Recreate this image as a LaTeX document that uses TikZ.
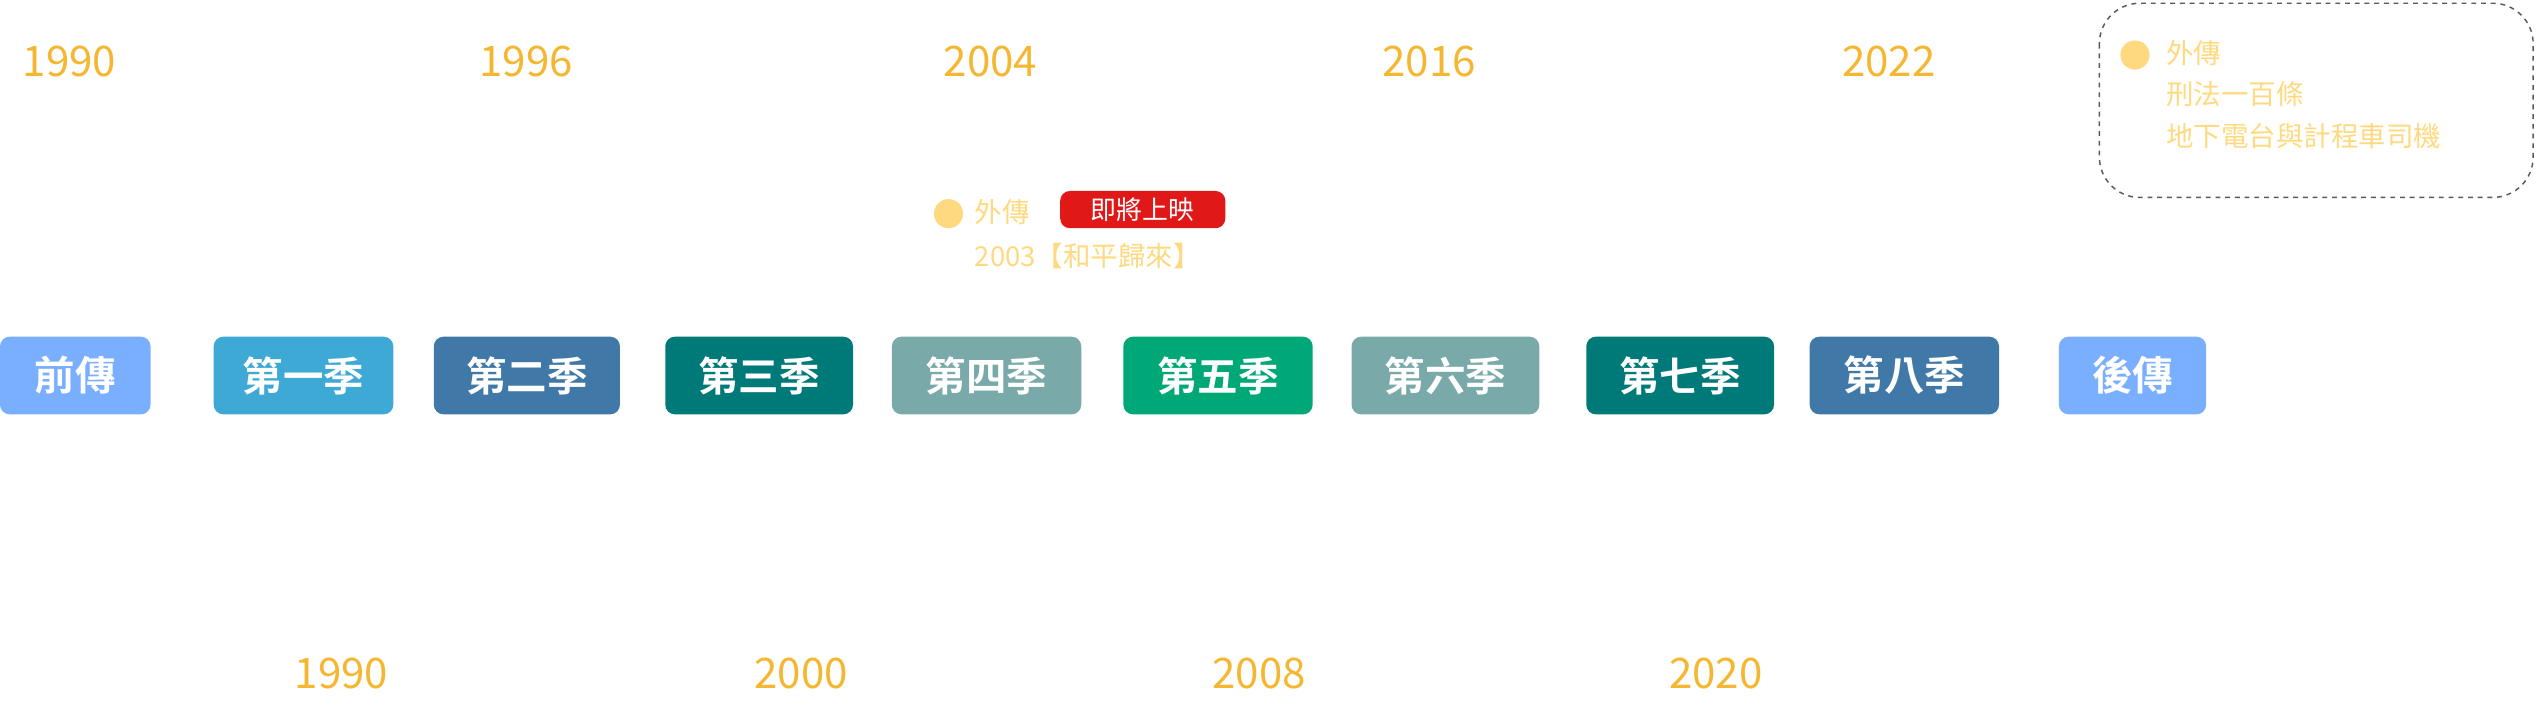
\documentclass[tikz,border=0pt]{standalone}
\usepackage{fontspec}
\setmainfont{Noto Sans CJK TC}
\newfontfamily\cjkb{Noto Sans CJK TC Bold}
\definecolor{yr}{HTML}{F5B731}
\definecolor{lt}{HTML}{FFD97F}
\definecolor{cA}{HTML}{7AAEFF}
\definecolor{cB}{HTML}{3FA9D6}
\definecolor{cC}{HTML}{4079A8}
\definecolor{cD}{HTML}{007A78}
\definecolor{cE}{HTML}{79A9A8}
\definecolor{cF}{HTML}{00A878}
\definecolor{rd}{HTML}{E01818}
\begin{document}
\begin{tikzpicture}[x=1pt,y=-1pt,
  year/.style={text=yr,font=\fontsize{26}{28}\selectfont,inner sep=0},
  sbox/.style={rounded corners=6pt,minimum height=48pt,text=white,font=\cjkb\fontsize{25}{27}\selectfont,inner sep=0},
  side/.style={text=lt,font=\fontsize{17}{19}\selectfont,inner sep=0,anchor=west}]
\useasboundingbox (0,0) rectangle (1568,435);
\foreach \n/\x/\t in {ya/43/1990,yb/325/1996,yc/612/2004,yd/883/2016,ye/1167/2022}
  \node[year] (\n) at (\x,38) {\t};
\foreach \n/\x/\t in {za/211/1990,zb/495/2000,zc/778/2008,zd/1060/2020}
  \node[year] (\n) at (\x,416) {\t};
\foreach \n/\a/\b/\c/\t in {s0/0/93/cA/前傳,s1/132/243/cB/第一季,s2/268/383/cC/第二季,s3/411/527/cD/第三季,s4/551/668/cE/第四季,s5/694/811/cF/第五季,s6/835/951/cE/第六季,s7/980/1096/cD/第七季,s8/1118/1235/cC/第八季,s9/1272/1363/cA/後傳}
  \node[sbox,fill=\c,minimum width={\b-\a}] (\n) at ({(\a+\b)/2},232) {\t};
% middle note
\node[circle,fill=lt,minimum size=18pt,inner sep=0] (d1) at (586,132) {};
\node[side] (m1) at (602,131) {外傳};
\node[fill=rd,rounded corners=6pt,minimum width=102pt,minimum height=23pt,text=white,font=\fontsize{16}{18}\selectfont,inner sep=0] (rb) at (706,129.5) {即將上映};
\node[side] (m2) at (602,158) {2003【和平歸來】};
% dashed box
\draw[dashed,gray!70!black,rounded corners=25pt,line width=0.9pt] (1297,2) rectangle (1565,122);
\node[circle,fill=lt,minimum size=18pt,inner sep=0] (d2) at (1319,34) {};
\node[side] (r1) at (1338,33) {外傳};
\node[side] (r2) at (1338,58) {刑法一百條};
\node[side] (r3) at (1338,84) {地下電台與計程車司機};
\end{tikzpicture}
\end{document}
